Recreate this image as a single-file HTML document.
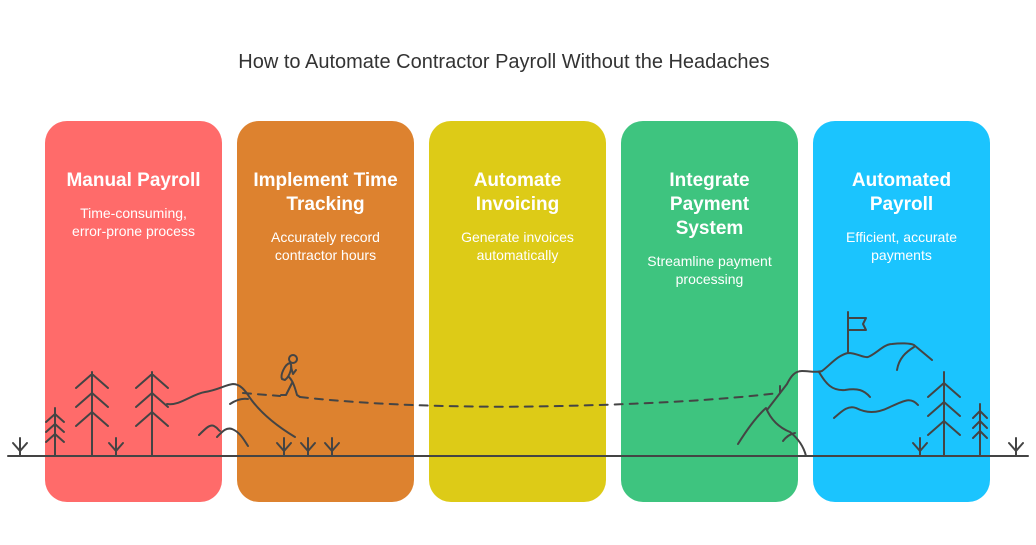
<!DOCTYPE html>
<html><head><style>
body{margin:0;width:1036px;height:545px;background:#fff;position:relative;overflow:hidden;font-family:"Liberation Sans",sans-serif;}
.t{position:absolute;top:51px;left:-14px;width:1036px;text-align:center;font-size:20px;color:#333;}
.p{position:absolute;top:121px;width:177px;height:381px;border-radius:22px;text-align:center;color:#fff;}
.p h{display:block;font-weight:bold;font-size:19px;line-height:24px;margin-top:48px;}
.p s{display:block;text-decoration:none;font-size:14px;line-height:18px;margin-top:11px;}
svg{position:absolute;left:0;top:0;}
</style></head><body>
<div class="t">How to Automate Contractor Payroll Without the Headaches</div>
<div class="p" style="left:45px;background:#FF6B6A"><h>Manual Payroll</h><s>Time-consuming,<br>error-prone process</s></div>
<div class="p" style="left:237px;background:#DD822F"><h>Implement Time<br>Tracking</h><s>Accurately record<br>contractor hours</s></div>
<div class="p" style="left:429px;background:#DDCB17"><h>Automate<br>Invoicing</h><s>Generate invoices<br>automatically</s></div>
<div class="p" style="left:621px;background:#3EC47F"><h>Integrate<br>Payment<br>System</h><s>Streamline payment<br>processing</s></div>
<div class="p" style="left:813px;background:#1BC4FE"><h>Automated<br>Payroll</h><s>Efficient, accurate<br>payments</s></div>
<svg width="1036" height="545" fill="none" stroke="#444" stroke-width="2" stroke-linecap="round" stroke-linejoin="round">
<line x1="8" y1="456" x2="1028" y2="456"/>
<path d="M20 456V438M13 443l7 8 7-8"/>
<path d="M116 456V438M109 443l7 8 7-8"/>
<path d="M284 456V438M277 443l7 8 7-8"/>
<path d="M308 456V438M301 443l7 8 7-8"/>
<path d="M332 456V438M325 443l7 8 7-8"/>
<path d="M920 456V438M913 443l7 8 7-8"/>
<path d="M1016 456V438M1009 443l7 8 7-8"/>
<path d="M55 456V408M46 422l9-8 9 8M46 432l9-8 9 8M46 442l9-8 9 8"/>
<path d="M92 456V372M76 388l16-14 16 14M76 407l16-14 16 14M76 426l16-14 16 14"/>
<path d="M152 456V372M136 388l16-14 16 14M136 407l16-14 16 14M136 426l16-14 16 14"/>
<path d="M944 456V372M928 397l16-14 16 14M928 416l16-14 16 14M928 435l16-14 16 14"/>
<path d="M980 456V404M973 418l7-7 7 7M973 428l7-7 7 7M973 438l7-7 7 7"/>
<path d="M167 404C180 406 192 394 205 392C218 390 225 385 233 384C240 384 245 390 250 398C260 412 275 425 295 437"/>
<path d="M230 404C236 400 242 398 248 399"/>
<path d="M199 435C206 428 210 424 214 426C218 428 219 431 220 431"/>
<path d="M217 437C222 432 226 427 232 429C240 432 244 440 248 446"/>
<circle cx="293" cy="359" r="4"/>
<path d="M282 379C280 375 285 364 290 363C293 366 290 376 285 380Z"/>
<path d="M291 367l2 7 3-4"/>
<path d="M289 377C292 380 294 384 297 395L300 397"/>
<path d="M292 383l-6 12h-5"/>
<path d="M243 393L280 396M300 397C380 406 480 408 560 406C650 404 720 400 779 393" stroke-dasharray="8 7"/>
<path d="M738 444C748 428 757 416 766 408C771 420 780 428 790 432C800 440 804 448 806 456"/>
<path d="M783 441C786 437 790 434 795 433"/>
<path d="M767 410L787 384C791 376 795 371 802 371C810 371 816 373 822 371C830 365 838 355 848 353C858 353 862 358 868 357C876 354 884 344 892 344C900 343 910 343 914 345L932 360"/>
<path d="M897 370C899 358 906 352 914 347"/>
<path d="M819 372C826 384 832 391 845 390C858 388 864 390 870 397"/>
<path d="M834 418C842 411 848 405 856 408C866 413 876 414 890 407C905 400 911 397 918 405"/>
<path d="M780 393V386"/>
<path d="M848 353V312M848 318H866L863 324L866 330H848"/>
</svg>
</body></html>
